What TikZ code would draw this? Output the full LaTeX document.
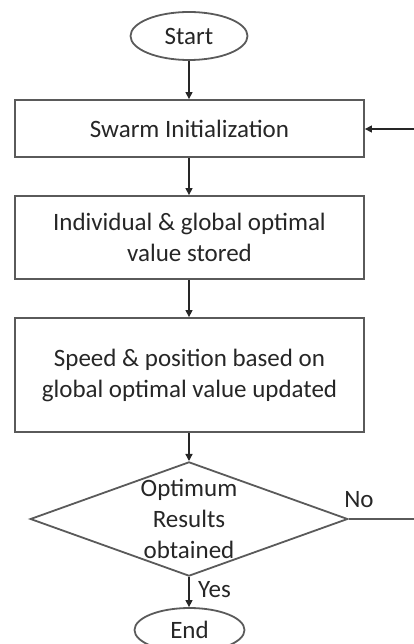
\documentclass[tikz,border=0pt]{standalone}
\usepackage{fontspec}
\setmainfont{Carlito}
\usetikzlibrary{shapes.geometric,arrows.meta}
\definecolor{edge}{HTML}{5A5A5A}
\definecolor{ink}{HTML}{262626}
\tikzset{
  base/.style={draw=edge, line width=1.8pt, text=ink, align=center,
    font=\fontsize{25}{31}\selectfont, inner sep=0pt},
  terminal/.style={base, ellipse, minimum width=117pt, minimum height=48pt},
  process/.style={base, rectangle, minimum width=349pt},
  decision/.style={base, diamond, minimum width=317pt, minimum height=114pt, aspect=2.78},
  flow/.style={draw=ink, line width=1.3pt, -{Triangle[length=7pt,width=7pt]}},
  plain/.style={draw=edge, line width=1.8pt},
  lbl/.style={text=ink, font=\fontsize{25}{31}\selectfont, inner sep=0pt}
}
\begin{document}
\begin{tikzpicture}[x=1pt,y=-1pt]
\useasboundingbox (0,0) rectangle (414,644);
\clip (0,0) rectangle (414,644);
\node[terminal] (start) at (189,36) {Start};
\node[process, minimum height=57pt] (init) at (189.5,128.5) {Swarm Initialization};
\node[process, minimum height=83pt] (store) at (189.5,237.5) {Individual \& global optimal\\value stored};
\node[process, minimum height=114pt] (update) at (189.5,375) {Speed \& position based on\\global optimal value updated};
\node[decision] (check) at (189,519) {Optimum\\Results\\obtained};
\node[terminal, minimum width=110pt, minimum height=44pt] (end) at (189.5,630) {End};
\coordinate (loopout) at (416,519);
\coordinate (loopin) at (416,129);
\draw[flow] (start) -- (init.north -| start);
\draw[flow] (init.south -| start) -- (store.north -| start);
\draw[flow] (store.south -| start) -- (update.north -| start);
\draw[flow] (update.south -| check) -- (check.north);
\draw[flow] (check.south) -- (end.north -| check);
\draw[plain] (check.east) -- (loopout);
\draw[flow] (loopin) -- (init.east |- loopin);
\node[lbl, anchor=west] (yes) at (198,590) {Yes};
\node[lbl] (no) at (359,500) {No};
\end{tikzpicture}
\end{document}
